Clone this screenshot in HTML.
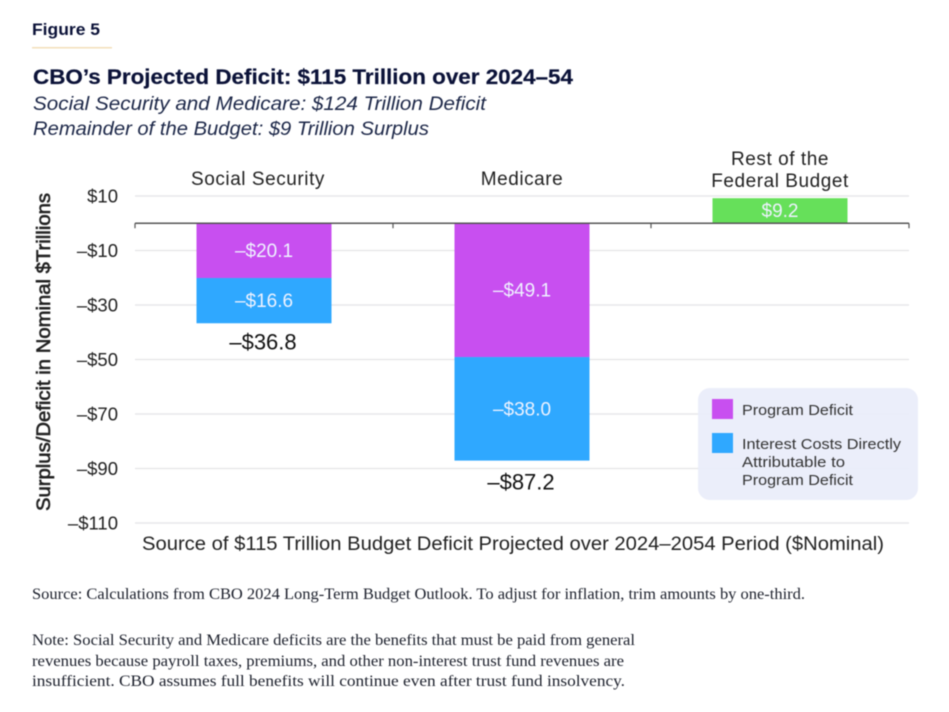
<!DOCTYPE html>
<html lang="en">
<head>
<meta charset="utf-8">
<title>CBO's Projected Deficit</title>
<style>
  html, body { margin: 0; padding: 0; background: #fff; }
  body { width: 949px; height: 712px; overflow: hidden; }
  svg { display: block; filter: blur(0.4px); }
  text { font-family: "Liberation Sans", sans-serif; }
  .serif { font-family: "Liberation Serif", serif; font-size: 15.5px; fill: #1c202c; }
</style>
</head>
<body>
<svg id="chart" width="949" height="712" viewBox="0 0 949 712" xmlns="http://www.w3.org/2000/svg">
  <rect x="0" y="0" width="949" height="712" fill="#ffffff"/>
  <text x="32" y="35" font-size="17" font-weight="700" fill="#0b1238" textLength="68" lengthAdjust="spacingAndGlyphs">Figure 5</text>
  <rect x="32" y="47" width="80" height="1.5" fill="#f3dfba"/>
  <text x="33" y="84" font-size="21.5" font-weight="700" fill="#0b1238" stroke="#0b1238" stroke-width="0.2" textLength="540" lengthAdjust="spacingAndGlyphs">CBO’s Projected Deficit: $115 Trillion over 2024–54</text>
  <text x="33" y="110" font-size="19.5" font-style="italic" fill="#1c2748" textLength="453" lengthAdjust="spacingAndGlyphs">Social Security and Medicare: $124 Trillion Deficit</text>
  <text x="33" y="135" font-size="19.5" font-style="italic" fill="#1c2748" textLength="396" lengthAdjust="spacingAndGlyphs">Remainder of the Budget: $9 Trillion Surplus</text>

  <g id="grid"></g>
  <g id="bars"></g>
  <g id="axis"></g>
  <g id="labels"></g>

  <text transform="translate(50,352) rotate(-90)" text-anchor="middle" font-size="19" fill="#222222" stroke="#222222" stroke-width="0.6" textLength="318" lengthAdjust="spacingAndGlyphs">Surplus/Deficit in Nominal $Trillions</text>
  <text x="142" y="550" font-size="19" fill="#222222" textLength="742" lengthAdjust="spacingAndGlyphs">Source of $115 Trillion Budget Deficit Projected over 2024–2054 Period ($Nominal)</text>

  <g>
    <rect x="698" y="388" width="220" height="112" rx="12" fill="#e9ecfa" fill-opacity="0.9"/>
    <rect x="712" y="399" width="21" height="20" fill="#c84ff0"/>
    <text x="742" y="415" font-size="15" fill="#333333" textLength="111" lengthAdjust="spacingAndGlyphs">Program Deficit</text>
    <rect x="712" y="433" width="21" height="20" fill="#2fa8ff"/>
    <text x="742" y="449" font-size="15" fill="#333333" textLength="159" lengthAdjust="spacingAndGlyphs">Interest Costs Directly</text>
    <text x="742" y="467" font-size="15" fill="#333333" textLength="103" lengthAdjust="spacingAndGlyphs">Attributable to</text>
    <text x="742" y="485" font-size="15" fill="#333333" textLength="111" lengthAdjust="spacingAndGlyphs">Program Deficit</text>
  </g>

  <text class="serif" x="32" y="599" textLength="773" lengthAdjust="spacingAndGlyphs">Source: Calculations from CBO 2024 Long-Term Budget Outlook. To adjust for inflation, trim amounts by one-third.</text>
  <text class="serif" x="32" y="645" textLength="603" lengthAdjust="spacingAndGlyphs">Note: Social Security and Medicare deficits are the benefits that must be paid from general</text>
  <text class="serif" x="32" y="666" textLength="592" lengthAdjust="spacingAndGlyphs">revenues because payroll taxes, premiums, and other non-interest trust fund revenues are</text>
  <text class="serif" x="32" y="686" textLength="593" lengthAdjust="spacingAndGlyphs">insufficient. CBO assumes full benefits will continue even after trust fund insolvency.</text>
</svg>

<script>
const categories = ["Social Security", "Medicare", "Rest of the|Federal Budget"];
const programDeficit = [-20.1, -49.1, 0];
const interestCosts = [-16.6, -38.0, 0];
const surplus = [0, 0, 9.2];
const totals = [-36.8, -87.2, null];
const yTicks = [10, -10, -30, -50, -70, -90, -110];

const SVGNS = "http://www.w3.org/2000/svg";
const plot = { left: 135, right: 909, top: 196, bottom: 523 };
const domain = { max: 10, min: -110 };

function y(v) {
  return plot.top + (domain.max - v) / (domain.max - domain.min) * (plot.bottom - plot.top);
}
function bandLeft(i) {
  return plot.left + i * (plot.right - plot.left) / categories.length;
}
function bandCenter(i) {
  return bandLeft(i + 0.5);
}
function money(v, decimals) {
  const s = Math.abs(v).toFixed(decimals);
  return (v < 0 ? "\u2013$" : "$") + s;
}
function make(tag, attrs, parent, text) {
  const el = document.createElementNS(SVGNS, tag);
  for (const k in attrs) el.setAttribute(k, attrs[k]);
  if (text !== undefined) el.textContent = text;
  parent.appendChild(el);
  return el;
}

const gridG = document.getElementById("grid");
const barsG = document.getElementById("bars");
const axisG = document.getElementById("axis");
const labelsG = document.getElementById("labels");

yTicks.forEach(function (t) {
  const line = make("line", { x1: plot.left, x2: plot.right, y1: y(t), y2: y(t), stroke: "#e4e4e6", "stroke-width": 1.2 }, gridG);
  
  
  const lab = make("text", { x: 118, y: y(t) + 6.5, "text-anchor": "end", "font-size": 18.5, fill: "#222222" }, axisG, money(t, 0));
  
  
});

const barWidth = 135;
function drawBar(i, from, to, color, name) {
  if (from === to) return;
  const top = Math.min(y(from), y(to));
  const h = Math.abs(y(from) - y(to));
  const r = make("rect", { x: bandCenter(i) - barWidth / 2, y: top, width: barWidth, height: h, fill: color }, barsG);
  
  
  const v = to - from;
  const val = make("text", { x: bandCenter(i), y: top + h / 2 + 6.5, "text-anchor": "middle", "font-size": 19, fill: "#eef2ff" }, labelsG, money(v, 1));
  
  
}

categories.forEach(function (c, i) {
  drawBar(i, 0, programDeficit[i], "#c84ff0", "bar-program-deficit");
  drawBar(i, programDeficit[i], programDeficit[i] + interestCosts[i], "#2fa8ff", "bar-interest-costs");
  drawBar(i, 0, surplus[i], "#66e05a", "bar-surplus");

  if (totals[i] !== null) {
    const totalNudge = i === 1 ? 2.5 : 0;
    const tot = make("text", { x: bandCenter(i) - 1, y: y(totals[i]) + 26 + totalNudge, "text-anchor": "middle", "font-size": 22, fill: "#111111" }, labelsG, money(totals[i], 1));
    
    
  }

  const lines = c.split("|");
  const labelNudge = i === 0 ? -6 : 0;
  lines.forEach(function (ln, k) {
    const baseY = 185 - (lines.length - 1 - k) * 22 + (lines.length > 1 ? 2 : 0);
    const cat = make("text", { x: bandCenter(i) + labelNudge, y: baseY, "text-anchor": "middle", "font-size": 19, "letter-spacing": 0.55, fill: "#222222" }, axisG, ln);
    
    
  });
});

const zero = make("line", { x1: plot.left, x2: plot.right, y1: y(0), y2: y(0), stroke: "#555555", "stroke-width": 1.6 }, axisG);



for (let i = 0; i <= categories.length; i++) {
  const tick = make("line", { x1: bandLeft(i), x2: bandLeft(i), y1: y(0), y2: y(0) + 5, stroke: "#555555", "stroke-width": 1.2 }, axisG);
  
  
}
</script>
</body>
</html>
